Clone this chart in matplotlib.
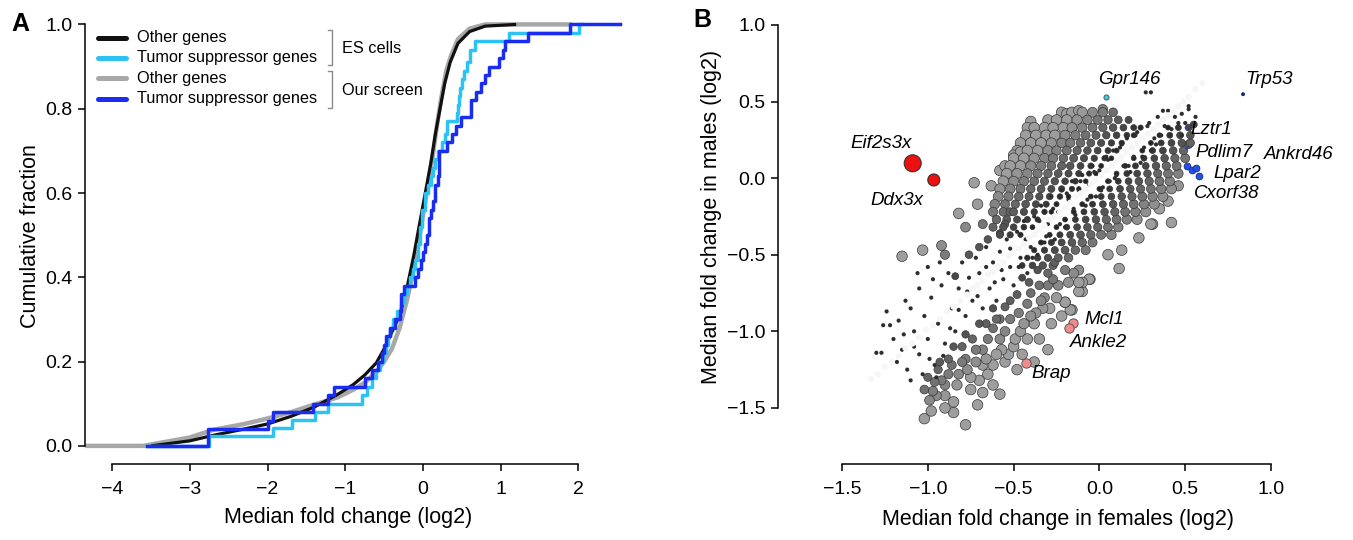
import matplotlib
matplotlib.use("Agg")
import matplotlib.pyplot as plt
import numpy as np
from matplotlib.colors import LinearSegmentedColormap
from matplotlib.lines import Line2D

plt.rcParams.update({
    "font.family": ["Liberation Sans", "DejaVu Sans"],
    "font.size": 14,
    "axes.linewidth": 1.1,
    "xtick.major.width": 1.1,
    "ytick.major.width": 1.1,
    "xtick.major.size": 5,
    "ytick.major.size": 5,
})

W, H = 1353, 540

# ── Panel A data: cumulative fraction curves ─────────────────────────
# ES cells, other genes (smooth ECDF)
es_other_x = [-3.5, -3.0, -2.7, -2.3, -2.0, -1.7, -1.4, -1.1, -0.9, -0.75, -0.6, -0.5,
              -0.4, -0.3, -0.2, -0.12, -0.05, 0.03, 0.10, 0.16, 0.22, 0.28, 0.35, 0.45,
              0.60, 0.80, 1.2]
es_other_y = [0.0, 0.012, 0.025, 0.04, 0.052, 0.07, 0.092, 0.122, 0.145, 0.168, 0.197, 0.23,
              0.27, 0.31, 0.38, 0.45, 0.52, 0.60, 0.67, 0.74, 0.80, 0.86, 0.91, 0.955,
              0.983, 0.996, 1.0]
# our screen, other genes (smooth ECDF)
scr_other_x = [-4.35, -3.6, -3.3, -3.0, -2.7, -2.3, -2.0, -1.7, -1.4, -1.1, -0.9, -0.75,
               -0.6, -0.5, -0.4, -0.3, -0.2, -0.12, -0.05, 0.03, 0.12, 0.18, 0.23, 0.30,
               0.35, 0.45, 0.60, 0.80, 1.92]
scr_other_y = [0.0, 0.0, 0.01, 0.02, 0.038, 0.052, 0.065, 0.08, 0.098, 0.115, 0.133, 0.15,
               0.175, 0.20, 0.23, 0.28, 0.35, 0.42, 0.49, 0.58, 0.68, 0.76, 0.82, 0.89,
               0.92, 0.965, 0.99, 1.0, 1.0]
# ES cells, tumor suppressor genes (step ECDF)
es_tsg_x = [-3.55, -2.75, -1.93, -1.69, -1.39, -1.22, -0.79, -0.72, -0.66, -0.60, -0.55, -0.51,
            -0.48, -0.45, -0.42, -0.38, -0.33, -0.28, -0.25, -0.20, -0.17, -0.13, -0.10, -0.07,
            -0.04, -0.01, 0.03, 0.07, 0.10, 0.13, 0.16, 0.20, 0.24, 0.28, 0.31, 0.44, 0.45,
            0.46, 0.48, 0.50, 0.53, 0.57, 0.60, 0.67, 1.11, 2.01, 2.05]
es_tsg_y = [0.0, 0.024, 0.043, 0.062, 0.081, 0.10, 0.12, 0.14, 0.16, 0.18, 0.20, 0.22,
            0.24, 0.26, 0.28, 0.30, 0.32, 0.34, 0.36, 0.38, 0.40, 0.42, 0.44, 0.48,
            0.52, 0.56, 0.60, 0.62, 0.64, 0.66, 0.68, 0.70, 0.72, 0.74, 0.77, 0.79, 0.81,
            0.83, 0.85, 0.87, 0.89, 0.91, 0.94, 0.96, 0.98, 1.0, 1.0]
# our screen, tumor suppressor genes (step ECDF)
scr_tsg_x = [-3.55, -2.77, -2.00, -1.93, -1.41, -1.22, -1.15, -0.75, -0.66, -0.58, -0.53, -0.50,
             -0.47, -0.42, -0.36, -0.30, -0.28, -0.25, -0.10, -0.07, -0.03, 0.00, 0.03, 0.05,
             0.075, 0.10, 0.13, 0.16, 0.19, 0.21, 0.31, 0.38, 0.43, 0.49, 0.62, 0.68, 0.75,
             0.80, 0.85, 0.98, 1.03, 1.05, 1.35, 1.89, 2.54]
scr_tsg_y = [0.0, 0.04, 0.06, 0.08, 0.10, 0.12, 0.14, 0.16, 0.18, 0.20, 0.22, 0.24,
             0.26, 0.28, 0.30, 0.32, 0.36, 0.38, 0.40, 0.42, 0.44, 0.46, 0.48, 0.50,
             0.54, 0.56, 0.58, 0.62, 0.64, 0.70, 0.72, 0.74, 0.76, 0.78, 0.82, 0.84, 0.86,
             0.88, 0.90, 0.92, 0.94, 0.96, 0.98, 1.00, 1.00]

legend_labels = ["Other genes", "Tumor suppressor genes", "Other genes", "Tumor suppressor genes"]
group_labels = ["ES cells", "Our screen"]

# ── Panel B data: median fold change, females (x) vs males (y) ──────
# genes with almost equal change in both sexes (lie on the diagonal)
diag_pts = [(-1.33, -1.31), (-1.29, -1.28), (-1.25, -1.23), (-1.21, -1.20), (-1.17, -1.16),
            (-1.13, -1.11), (-1.09, -1.08), (-1.05, -1.04), (-1.01, -0.99), (-0.97, -0.96),
            (-0.93, -0.92), (-0.89, -0.87), (-0.85, -0.84), (-0.81, -0.80), (-0.77, -0.76),
            (-0.74, -0.72), (-0.71, -0.70), (-0.68, -0.67), (-0.65, -0.63), (-0.62, -0.61),
            (-0.59, -0.58), (-0.56, -0.55), (-0.53, -0.51), (-0.50, -0.49), (-0.47, -0.46),
            (-0.44, -0.43), (-0.41, -0.39), (-0.38, -0.37), (-0.35, -0.34), (-0.32, -0.31),
            (-0.29, -0.27), (-0.26, -0.25), (-0.23, -0.22), (-0.20, -0.19), (-0.17, -0.16),
            (-0.14, -0.12), (-0.11, -0.10), (-0.08, -0.07), (-0.05, -0.04), (-0.02, -0.01),
            (0.01, 0.02), (0.04, 0.05), (0.07, 0.08), (0.10, 0.11), (0.13, 0.14),
            (0.16, 0.17), (0.19, 0.20), (0.22, 0.23), (0.25, 0.26), (0.28, 0.29),
            (0.31, 0.32), (0.34, 0.35), (0.37, 0.38), (0.40, 0.41), (0.43, 0.44),
            (0.46, 0.47), (0.49, 0.50), (0.52, 0.53), (0.56, 0.58), (0.60, 0.62)]
# small differences between sexes, low-expressed genes (drawn as dots)
weak_pts = [(-1.24, -0.87), (-1.26, -0.96), (-1.22, -0.96), (-1.30, -1.14), (-1.27, -1.14),
            (-1.17, -0.93), (-1.20, -1.05), (-1.15, -1.12), (-1.12, -1.25), (-1.10, -0.85),
            (-1.08, -1.00), (-1.05, -1.15), (-1.02, -0.90), (-1.00, -1.05), (-0.98, -0.78),
            (-0.96, -1.22), (-0.94, -0.95), (-0.92, -0.70), (-0.90, -1.08), (-0.88, -0.62),
            (-0.86, -0.85), (-0.84, -1.00), (-0.82, -0.72), (-0.80, -0.55), (-0.78, -0.90),
            (-0.76, -0.65), (-0.74, -0.80), (-0.72, -0.52), (-0.70, -0.62), (-0.68, -0.85),
            (-0.66, -0.45), (-0.64, -0.72), (-0.62, -0.55), (-0.60, -0.80), (-0.58, -0.48),
            (-0.56, -0.66), (-0.54, -0.40), (-0.52, -0.58), (-0.50, -0.70), (-0.48, -0.35),
            (-0.46, -0.52), (-0.44, -0.28), (-0.42, -0.62), (-0.40, -0.45), (-0.38, -0.25),
            (-0.36, -0.50), (-0.34, -0.18), (-0.32, -0.42), (-0.30, -0.30), (-0.28, -0.12),
            (-0.26, -0.40), (-0.24, -0.22), (-0.22, -0.08), (-0.20, -0.32), (-0.18, -0.14),
            (-0.16, -0.02), (-0.14, -0.24), (-0.12, -0.08), (-0.10, 0.02), (-0.08, -0.18),
            (-0.06, -0.04), (-0.04, 0.08), (-0.02, -0.12), (0.00, 0.05), (0.02, -0.06),
            (0.04, 0.14), (0.06, -0.02), (0.08, 0.18), (0.10, 0.02), (0.12, 0.20),
            (0.14, 0.08), (0.16, 0.26), (0.18, 0.04), (0.20, 0.14), (0.22, 0.30),
            (0.24, 0.10), (0.26, 0.20), (0.28, 0.34), (0.30, 0.18), (0.32, 0.26),
            (0.34, 0.40), (0.36, 0.28), (0.38, 0.34), (0.40, 0.44), (0.42, 0.32),
            (0.44, 0.40), (0.46, 0.36), (0.48, 0.42), (0.52, 0.45), (0.50, 0.36),
            (-1.13, -0.80), (-1.05, -0.72), (-0.97, -0.66), (-1.18, -1.20), (-1.10, -1.32),
            (-1.03, -1.28), (-0.95, -1.30), (0.27, 0.56), (0.30, 0.56), (0.52, 0.47),
            (0.56, 0.40), (0.48, 0.28), (-1.06, -0.62), (-1.00, -0.58), (-0.93, -0.55),
            (-1.14, -1.02), (-1.08, -1.10), (-0.99, -1.18), (-0.91, -1.16), (-0.87, -0.98),
            (-0.82, -0.86), (-0.77, -0.74), (-0.71, -0.77), (-0.66, -0.58), (-0.61, -0.68),
            (-0.57, -0.60), (-0.52, -0.46), (-0.47, -0.58), (-0.43, -0.40), (-0.39, -0.52),
            (-0.35, -0.28), (-0.31, -0.38), (-0.27, -0.20), (-0.23, -0.30), (-0.19, -0.10),
            (-0.15, -0.20), (-0.11, -0.02), (-0.07, -0.14), (-0.03, 0.04), (0.01, -0.08),
            (0.05, 0.12), (0.09, 0.00), (0.13, 0.22), (0.17, 0.08), (0.21, 0.28),
            (0.25, 0.14), (0.29, 0.36), (0.33, 0.22), (0.37, 0.44), (0.41, 0.28)]
# scattered genes around the core
mid_pts = [(-0.55, -0.30), (-0.52, -0.22), (-0.58, -0.36), (-0.65, -0.40), (-0.68, -0.30),
           (-0.70, -0.45), (-0.63, -0.05), (-0.55, 0.08), (-0.50, 0.15), (0.02, 0.45),
           (-0.12, 0.44), (0.20, 0.28), (0.24, 0.33),
           (0.52, 0.22), (0.46, -0.05), (0.40, -0.15), (0.55, 0.35), (0.30, -0.30),
           (0.05, -0.50), (0.35, -0.20),
           (-0.30, -0.70), (-0.33, -0.85), (-0.36, -0.60), (-0.38, -0.95), (-0.40, -0.75),
           (-0.42, -1.05), (-0.45, -0.65), (-0.47, -0.88), (-0.50, -1.10), (-0.52, -0.80),
           (-0.55, -1.00), (-0.58, -0.92), (-0.60, -1.15), (-0.62, -0.85), (-0.65, -1.05),
           (-0.68, -1.22), (-0.70, -0.95), (-0.72, -1.12), (-0.75, -1.30), (-0.78, -1.02),
           (-0.80, -1.20), (-0.83, -1.35), (-0.85, -1.10), (-0.88, -1.28), (-0.90, -1.42),
           (-0.93, -1.20), (-0.96, -1.33), (-0.99, -1.45), (-1.02, -1.38), (-0.75, -1.38),
           (-0.65, -1.28), (-0.55, -1.20), (-0.45, -1.15), (-0.35, -1.05), (-0.28, -0.95),
           (-0.25, -0.78), (-0.22, -0.90), (-0.30, -1.12), (-0.38, -1.20), (-0.48, -1.25),
           (-0.20, -0.81), (-0.12, -0.74), (-0.10, -0.68), (-0.06, -0.66), (-0.17, -0.86),
           (-0.12, -0.60), (-0.055, -0.66), (-0.10, -0.74), (-0.12, -0.68), (0.31, -0.30),
           (-0.58, -1.05), (-0.68, -1.12), (-0.78, -1.18), (-0.86, -1.22), (-0.62, -0.98),
           (-0.44, -0.95), (-0.34, -0.80), (-0.52, -0.92), (-0.70, -1.32), (-0.92, -1.32),
           (-0.27, -0.66), (-0.42, -0.82), (-0.84, -0.64), (-0.90, -0.50), (-0.76, -0.50),
           (-0.95, -1.42), (-0.90, -1.35), (-0.82, -1.28), (-0.77, -1.25), (-0.72, -1.20),
           (-0.66, -1.18), (-0.62, -1.22), (-0.57, -1.12), (-0.53, -1.15), (-0.49, -1.05),
           (-0.46, -1.00), (-0.40, -0.90), (-0.37, -0.88), (-0.32, -0.78), (-0.29, -0.85),
           (-0.24, -0.70), (-0.18, -0.68), (-0.15, -0.62), (-0.20, -0.60), (-0.26, -0.55),
           (-0.30, -0.62), (-0.35, -0.70), (-0.41, -0.68), (-0.48, -0.76), (-0.55, -0.84),
           (-0.60, -0.92), (-0.66, -0.95), (-0.74, -1.05), (-0.80, -1.10), (-0.88, -1.18),
           (-0.94, -1.25), (-1.00, -1.30), (-0.98, -1.52), (-0.90, -1.50), (-0.68, -1.40),
           (-0.62, -1.35)]
# dense core above the diagonal, rows of (males value, females values)
core_upper = [
    (0.43, [-0.22, -0.16, -0.10, -0.04, 0.02, 0.08]),
    (0.38, [-0.30, -0.25, -0.19, -0.13, -0.07, -0.01, 0.05, 0.11, 0.17]),
    (0.33, [-0.38, -0.32, -0.27, -0.21, -0.16, -0.10, -0.04, 0.02, 0.08, 0.14, 0.20]),
    (0.28, [-0.43, -0.37, -0.31, -0.26, -0.20, -0.14, -0.08, -0.02, 0.04, 0.10, 0.16]),
    (0.23, [-0.46, -0.40, -0.34, -0.28, -0.22, -0.17, -0.11, -0.05, 0.01, 0.07, 0.13]),
    (0.18, [-0.48, -0.42, -0.36, -0.30, -0.25, -0.19, -0.13, -0.07, -0.01, 0.05, 0.10]),
    (0.13, [-0.50, -0.44, -0.38, -0.32, -0.27, -0.21, -0.15, -0.09, -0.03, 0.03, 0.07]),
    (0.08, [-0.52, -0.46, -0.40, -0.34, -0.28, -0.22, -0.17, -0.11, -0.05, 0.01]),
    (0.03, [-0.54, -0.48, -0.42, -0.36, -0.30, -0.24, -0.18, -0.12, -0.06, -0.02]),
    (-0.02, [-0.56, -0.50, -0.44, -0.38, -0.32, -0.26, -0.20, -0.14, -0.08]),
    (-0.07, [-0.58, -0.52, -0.46, -0.40, -0.34, -0.28, -0.22, -0.16, -0.12]),
    (-0.12, [-0.59, -0.53, -0.47, -0.41, -0.35, -0.29, -0.23, -0.18]),
    (-0.17, [-0.61, -0.55, -0.49, -0.43, -0.37, -0.31, -0.25]),
    (-0.22, [-0.62, -0.56, -0.50, -0.44, -0.38, -0.32, -0.28]),
    (-0.27, [-0.60, -0.54, -0.48, -0.42, -0.36]),
    (-0.32, [-0.62, -0.56, -0.50, -0.44, -0.39]),
    (-0.37, [-0.58, -0.52, -0.46]),
]
# dense core below the diagonal
core_lower = [
    (0.33, [0.40, 0.46, 0.52]),
    (0.28, [0.35, 0.41, 0.47, 0.53]),
    (0.23, [0.30, 0.36, 0.42, 0.48, 0.53]),
    (0.18, [0.25, 0.31, 0.37, 0.43, 0.49]),
    (0.13, [0.20, 0.26, 0.32, 0.38, 0.44, 0.50]),
    (0.08, [0.15, 0.21, 0.27, 0.33, 0.39, 0.45]),
    (0.03, [0.10, 0.16, 0.22, 0.28, 0.34, 0.40, 0.46]),
    (-0.02, [0.05, 0.11, 0.17, 0.23, 0.29, 0.35, 0.41]),
    (-0.07, [0.00, 0.06, 0.12, 0.18, 0.24, 0.30, 0.36, 0.42]),
    (-0.12, [-0.05, 0.01, 0.07, 0.13, 0.19, 0.25, 0.31, 0.37]),
    (-0.17, [-0.10, -0.04, 0.02, 0.08, 0.14, 0.20, 0.26, 0.32]),
    (-0.22, [-0.15, -0.09, -0.03, 0.03, 0.09, 0.15, 0.21, 0.27]),
    (-0.27, [-0.20, -0.14, -0.08, -0.02, 0.04, 0.10, 0.16, 0.22]),
    (-0.32, [-0.25, -0.19, -0.13, -0.07, -0.01, 0.05, 0.11]),
    (-0.37, [-0.29, -0.23, -0.17, -0.11, -0.05, 0.01, 0.07]),
    (-0.42, [-0.34, -0.28, -0.22, -0.16, -0.10, -0.04]),
    (-0.47, [-0.38, -0.32, -0.26, -0.20, -0.14, -0.08]),
    (-0.52, [-0.42, -0.36, -0.30, -0.24, -0.18]),
    (-0.57, [-0.45, -0.39, -0.33, -0.27]),
]
# large differences between sexes
strong_pts = [(-1.15, -0.51), (-1.03, -0.47), (-0.92, -0.44), (-0.82, -0.23), (-0.73, -0.03),
              (-0.40, 0.37), (-0.42, 0.33), (-0.78, -1.61), (-1.02, -1.57), (-0.85, -1.53),
              (-0.71, -1.48), (-0.58, -1.41), (-0.85, -1.46), (-0.19, 0.42), (0.13, -0.47),
              (0.115, -0.59), (0.23, -0.39), (0.42, -0.29), (-0.58, 0.05), (-0.46, 0.17),
              (-0.97, -1.39), (-0.78, -0.32), (-0.71, -0.17), (-0.16, -0.86), (-0.20, -0.81)]

# highlighted genes
x_linked_names = ["Eif2s3x", "Ddx3x"]
x_linked_x = [-1.088, -0.965]
x_linked_y = [0.097, -0.012]
essential_names = ["Mcl1", "Ankle2", "Brap"]
essential_x = [-0.156, -0.18, -0.43]
essential_y = [-0.947, -0.98, -1.204]
tsg_names = ["Ankrd46", "Lpar2", "", "Cxorf38"]
tsg_x = [0.51, 0.54, 0.565, 0.58]
tsg_y = [0.08, 0.054, 0.069, 0.014]
tsg_small_names = ["Lztr1", "Pdlim7", "Trp53"]
tsg_small_x = [0.505, 0.51, 0.837]
tsg_small_y = [0.33, 0.195, 0.548]
gpr_x, gpr_y = [0.04], [0.532]


# ── helpers ───────────────────────────────────────────────────────────
def px_box(left, top, right, bottom):
    return [left / W, 1 - bottom / H, (right - left) / W, (bottom - top) / H]


def fx(x):
    return x / W


def fy(y):
    return 1 - y / H


def rows_to_xy(rows):
    xs, ys = [], []
    for yv, xrow in rows:
        xs += xrow
        ys += [yv] * len(xrow)
    return xs, ys


def style_axes(ax, xb, yb):
    for s in ("top", "right"):
        ax.spines[s].set_visible(False)
    ax.spines["bottom"].set_bounds(*xb)
    ax.spines["left"].set_bounds(*yb)
    ax.tick_params(axis="x", pad=7, labelsize=14)
    ax.tick_params(axis="y", pad=4, labelsize=14)


fig = plt.figure(figsize=(W / 100, H / 100), dpi=100)

# ── Panel A ───────────────────────────────────────────────────────────
axA = fig.add_axes(px_box(85, 16, 626.5, 464))
C_CYAN, C_BLUE, C_GRAY, C_BLACK = "#2cc3f4", "#1a2cf2", "#a8a8a8", "#111111"
axA.plot(scr_other_x, scr_other_y, color=C_GRAY, lw=3.2, solid_capstyle="butt")
axA.plot(es_other_x, es_other_y, color=C_BLACK, lw=2.3, solid_capstyle="butt")
axA.step(es_tsg_x, es_tsg_y, where="post", color=C_CYAN, lw=2.5)
axA.step(scr_tsg_x, scr_tsg_y, where="post", color=C_BLUE, lw=2.5)
axA.set_xlim(-4.35, 2.62)
axA.set_ylim(-0.043, 1.02)
axA.set_xticks([-4, -3, -2, -1, 0, 1, 2])
axA.set_yticks([0, 0.2, 0.4, 0.6, 0.8, 1.0])
axA.set_yticklabels(["0.0", "0.2", "0.4", "0.6", "0.8", "1.0"])
style_axes(axA, (-4, 2), (0, 1))

# custom legend with brackets
leg_colors = [C_BLACK, C_CYAN, C_GRAY, C_BLUE]
leg_rows = [37.7, 57.7, 78.3, 99]
for lab, col, yy in zip(legend_labels, leg_colors, leg_rows):
    fig.add_artist(Line2D([fx(98), fx(126)], [fy(yy), fy(yy)], color=col, lw=3.6,
                          solid_capstyle="round", transform=fig.transFigure))
    fig.text(fx(137), fy(yy), lab, fontsize=11.7, va="center", ha="left")
for (t, b), glab in zip([(30, 65), (71, 108)], group_labels):
    fig.add_artist(Line2D([fx(328), fx(332), fx(332), fx(328)],
                          [fy(t), fy(t), fy(b), fy(b)], color="#8a8a8a", lw=1.0,
                          transform=fig.transFigure))
    fig.text(fx(342), fy((t + b) / 2 + 1), glab, fontsize=11.7, va="center", ha="left")

fig.text(fx(20), fy(24), "A", fontsize=18, fontweight="bold", ha="center", va="center")
fig.text(fx(30), fy(236), "Cumulative fraction", fontsize=15.5, rotation=90,
         ha="center", va="center")
fig.text(fx(348), fy(518), "Median fold change (log2)", fontsize=15.5, ha="center", va="center")

# ── Panel B ───────────────────────────────────────────────────────────
axB = fig.add_axes(px_box(778, 17.3, 1291.6, 464))
axB.set_xlim(-1.873, 1.12)
axB.set_ylim(-1.866, 1.05)

cu_x, cu_y = rows_to_xy(core_upper)
cl_x, cl_y = rows_to_xy(core_lower)
circ_x = np.array(cu_x + cl_x + [p[0] for p in mid_pts] + [p[0] for p in strong_pts])
circ_y = np.array(cu_y + cl_y + [p[1] for p in mid_pts] + [p[1] for p in strong_pts])
# circle size and shade follow the male-female difference
diff = np.abs(circ_x - circ_y)
order = np.argsort(-diff)  # large circles first, dark small ones on top
sizes = np.clip(6 + 95 * diff, 8, 58)
shade = LinearSegmentedColormap.from_list("shade", ["#1c1c1c", "#626262", "#9e9e9e"])
axB.scatter(circ_x[order], circ_y[order], s=sizes[order], c=diff[order], cmap=shade,
            vmin=0.04, vmax=0.55, edgecolors="#383838", linewidths=0.5, zorder=2)
axB.scatter([p[0] for p in weak_pts], [p[1] for p in weak_pts], s=9, c="#2e2e2e",
            edgecolors="none", zorder=3)
axB.scatter([p[0] for p in diag_pts], [p[1] for p in diag_pts], s=20, c="#f6f6f6",
            edgecolors="none", zorder=3.5)

axB.scatter(x_linked_x, x_linked_y, s=[150, 75], c="#ee1111", edgecolors="#333333",
            linewidths=0.8, zorder=4)
axB.scatter(essential_x, essential_y, s=45, c="#f28c8c", edgecolors="#555555",
            linewidths=0.7, zorder=4)
axB.scatter(tsg_x, tsg_y, s=24, c="#2350e6", edgecolors="#1a2a80", linewidths=0.6, zorder=4)
axB.scatter(tsg_small_x, tsg_small_y, s=[4, 6, 8], c=["#2a40c0", "#2a40c0", "#1a237e"],
            edgecolors="none", zorder=4)
axB.scatter(gpr_x, gpr_y, s=14, c="#38c8e8", edgecolors="#333333", linewidths=0.5, zorder=4)

axB.set_xticks([-1.5, -1.0, -0.5, 0.0, 0.5, 1.0])
axB.set_xticklabels(["\u22121.5", "\u22121.0", "\u22120.5", "0.0", "0.5", "1.0"])
axB.set_yticks([-1.5, -1.0, -0.5, 0.0, 0.5, 1.0])
axB.set_yticklabels(["\u22121.5", "\u22121.0", "\u22120.5", "0.0", "0.5", "1.0"])
style_axes(axB, (-1.5, 1.0), (-1.5, 1.0))

gene_labels = [
    ("Eif2s3x", -1.273, 0.223, "center"),
    ("Ddx3x", -1.18, -0.145, "center"),
    ("Gpr146", 0.172, 0.645, "center"),
    ("Trp53", 0.848, 0.645, "left"),
    ("Lztr1", 0.528, 0.32, "left"),
    ("Pdlim7", 0.557, 0.169, "left"),
    ("Ankrd46", 0.96, 0.154, "left"),
    ("Lpar2", 0.662, 0.032, "left"),
    ("Cxorf38", 0.551, -0.10, "left"),
    ("Mcl1", -0.09, -0.923, "left"),
    ("Ankle2", -0.171, -1.072, "left"),
    ("Brap", -0.399, -1.273, "left"),
]
for name, tx, ty, ha in gene_labels:
    axB.text(tx, ty, name, fontsize=13.5, fontstyle="italic", ha=ha, va="center", zorder=5)

fig.text(fx(702), fy(20), "B", fontsize=18, fontweight="bold", ha="center", va="center")
fig.text(fx(712), fy(217), "Median fold change in males (log2)", fontsize=15.5, rotation=90,
         ha="center", va="center")
fig.text(fx(1058), fy(519), "Median fold change in females (log2)", fontsize=15.5,
         ha="center", va="center")

fig.savefig("out.png", dpi=100)
